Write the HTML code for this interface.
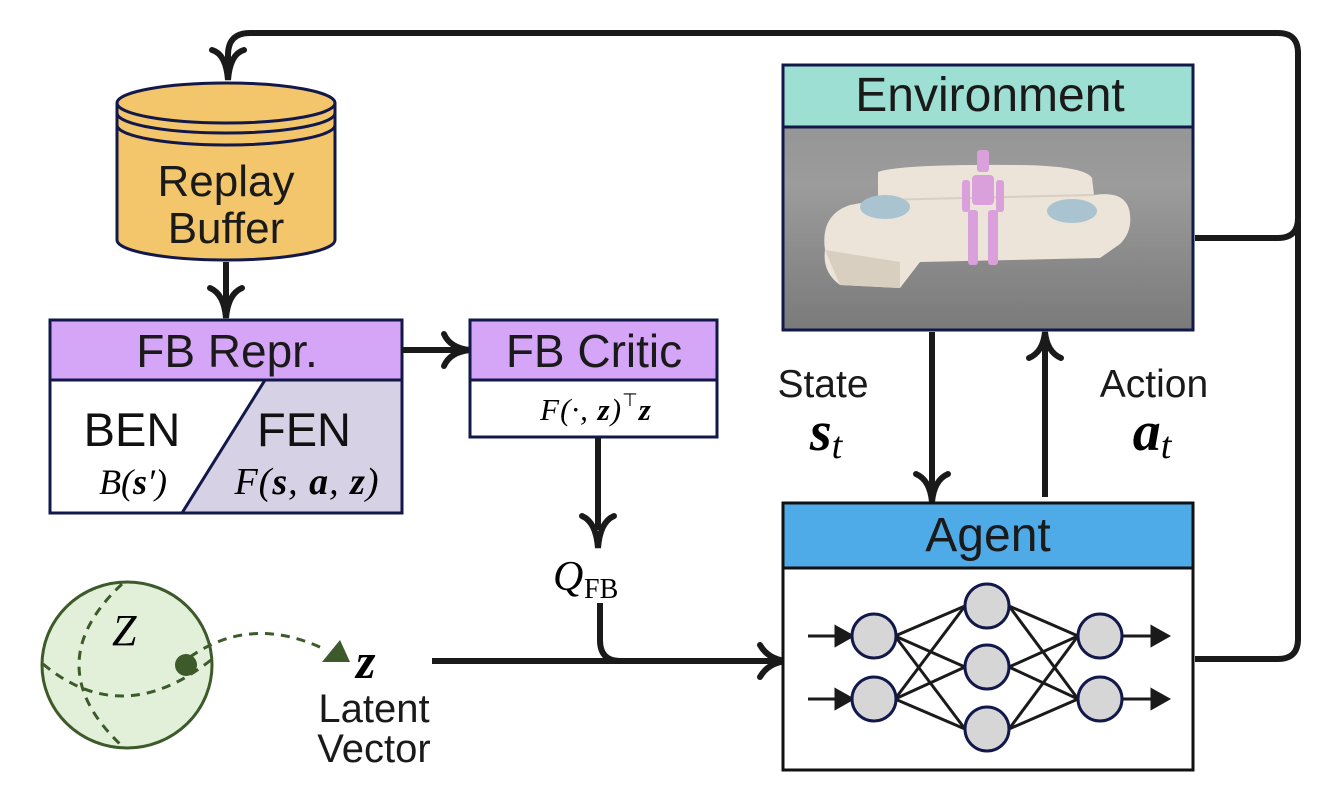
<!DOCTYPE html>
<html><head><meta charset="utf-8"><style>
html,body{margin:0;padding:0;background:#fff;}
svg{display:block;font-family:"Liberation Sans",sans-serif;}
.m{font-family:"Liberation Serif",serif;font-style:italic;}
</style></head><body>
<svg width="1324" height="802" viewBox="0 0 1324 802" xmlns="http://www.w3.org/2000/svg">
<defs>
<linearGradient id="floor" x1="0" y1="0" x2="0" y2="1">
<stop offset="0" stop-color="#8e8e8e"/><stop offset="0.45" stop-color="#9c9c9c"/><stop offset="1" stop-color="#7a7a7a"/>
</linearGradient>
</defs>

<!-- top loop -->
<path d="M1195 238 H1278 Q1298 238 1298 218 V53 Q1298 33 1278 33 H250 Q228 33 228 55 V80" fill="none" stroke="#1a1a1a" stroke-width="6"/>
<path d="M1195 659 H1278 Q1298 659 1298 639 V220" fill="none" stroke="#1a1a1a" stroke-width="6"/>
<path d="M212 50 Q226 54 228 80 Q230 54 244 50" fill="none" stroke="#1a1a1a" stroke-width="6" stroke-linecap="round"/>

<!-- cylinder -->
<path d="M117 103 V240 A109 20 0 0 0 335 240 V103" fill="#f3c66b" stroke="#12184a" stroke-width="3"/>
<ellipse cx="226" cy="103" rx="109" ry="20" fill="#f3c66b" stroke="#12184a" stroke-width="3"/>
<path d="M117 113 A109 20 0 0 0 335 113 M117 125 A109 20 0 0 0 335 125" fill="none" stroke="#12184a" stroke-width="3"/>
<text x="226" y="196" font-size="44" text-anchor="middle" fill="#1a1a1a">Replay</text>
<text x="226" y="243" font-size="44" text-anchor="middle" fill="#1a1a1a">Buffer</text>
<path d="M226 262 V318" stroke="#1a1a1a" stroke-width="6"/>
<path d="M210 288 Q224 294 226 318 Q228 294 242 288" fill="none" stroke="#1a1a1a" stroke-width="6" stroke-linecap="round"/>

<!-- FB Repr -->
<rect x="50" y="320" width="352" height="193" fill="#fff" stroke="#12184a" stroke-width="3"/>
<polygon points="265,380 402,380 402,513 182,513" fill="#d7d1e5"/>
<line x1="265" y1="380" x2="182" y2="513" stroke="#12184a" stroke-width="3"/>
<rect x="50" y="320" width="352" height="60" fill="#d5a5f7" stroke="#12184a" stroke-width="3"/>
<rect x="50" y="320" width="352" height="193" fill="none" stroke="#12184a" stroke-width="3"/>
<text x="227" y="367" font-size="46" text-anchor="middle" fill="#1a1a1a">FB Repr.</text>
<text x="132" y="446" font-size="47" text-anchor="middle" fill="#111">BEN</text>
<text x="304" y="446" font-size="47" text-anchor="middle" fill="#111">FEN</text>
<text x="133" y="494" font-size="36" text-anchor="middle" class="m">B(<tspan font-weight="bold">s</tspan>′)</text>
<text x="307" y="494" font-size="38" text-anchor="middle" class="m" letter-spacing="1">F(<tspan font-weight="bold">s</tspan>, <tspan font-weight="bold">a</tspan>, <tspan font-weight="bold">z</tspan>)</text>

<!-- arrow repr->critic -->
<path d="M402 350 H468" stroke="#1a1a1a" stroke-width="6"/>
<path d="M444 334 Q450 348 470 350 Q450 352 444 366" fill="none" stroke="#1a1a1a" stroke-width="6" stroke-linecap="round"/>

<!-- FB Critic -->
<rect x="470" y="320" width="247" height="117" fill="#fff" stroke="#12184a" stroke-width="3"/>
<rect x="470" y="320" width="247" height="60" fill="#d5a5f7" stroke="#12184a" stroke-width="3"/>
<text x="594" y="367" font-size="46" text-anchor="middle" fill="#1a1a1a">FB Critic</text>
<text x="596" y="420" font-size="31" text-anchor="middle" class="m" letter-spacing="1">F(·, <tspan font-weight="bold">z</tspan>)<tspan font-style="normal" font-size="18" dy="-14">⊤</tspan><tspan font-weight="bold" dy="14">z</tspan></text>
<path d="M598 437 V530" stroke="#1a1a1a" stroke-width="6"/>
<path d="M582 516 Q596 522 598 548 Q600 522 614 516" fill="none" stroke="#1a1a1a" stroke-width="6" stroke-linecap="round"/>
<text x="553" y="590" font-size="42" class="m">Q</text>
<text x="584" y="598" font-size="28" font-family="Liberation Serif,serif">FB</text>

<!-- Q line & z line -->
<path d="M600 603 V640 Q600 661 620 661 H786" fill="none" stroke="#1a1a1a" stroke-width="6"/>
<path d="M432 661 H786" stroke="#1a1a1a" stroke-width="6"/>
<path d="M760 645 Q768 659 786 661 Q768 663 760 677" fill="none" stroke="#1a1a1a" stroke-width="6" stroke-linecap="round"/>

<!-- sphere -->
<ellipse cx="127" cy="665" rx="85" ry="83" fill="#e2efd9" stroke="#3d5a2a" stroke-width="3"/>
<path d="M122 584 Q36 665 122 746" fill="none" stroke="#3d5a2a" stroke-width="3" stroke-dasharray="9 7"/>
<path d="M43 664 Q122 730 211 660" fill="none" stroke="#3d5a2a" stroke-width="3" stroke-dasharray="9 7"/>
<text x="112" y="645" font-size="44" font-family="Liberation Serif,serif" font-style="italic">Z</text>
<circle cx="186" cy="665" r="11" fill="#3d5a2a"/>
<path d="M190 657 Q250 615 322 648" fill="none" stroke="#3d5a2a" stroke-width="3" stroke-dasharray="9 7"/>
<polygon points="322,662 350,662 340,640" fill="#3d5a2a"/>
<text x="356" y="678" font-size="50" class="m" font-weight="bold">z</text>
<text x="374" y="722" font-size="40" text-anchor="middle" fill="#1a1a1a">Latent</text>
<text x="374" y="762" font-size="40" text-anchor="middle" fill="#1a1a1a">Vector</text>

<!-- Environment -->
<rect x="783" y="65" width="410" height="265" fill="url(#floor)" stroke="#12184a" stroke-width="3"/>
<!-- sofa -->
<path d="M825 250 Q820 215 850 205 L878 200 L878 172 Q900 164 1020 165 Q1085 166 1092 178 L1094 195 Q1128 190 1130 215 Q1132 232 1120 244 L1100 258 L920 262 L900 288 L840 285 Q822 272 825 250 Z" fill="#ece4d8"/>
<path d="M825 250 L900 262 L900 288 L840 285 Z" fill="#d9cfc0"/>
<path d="M878 200 L1094 195" stroke="#d8cfc2" stroke-width="2"/>
<ellipse cx="885" cy="207" rx="25" ry="12" fill="#a9c4d0"/>
<ellipse cx="1072" cy="211" rx="25" ry="12" fill="#a9c4d0"/>
<g fill="#d9a0dc">
<rect x="977" y="150" width="12" height="22" rx="3"/>
<rect x="972" y="175" width="22" height="30" rx="4"/>
<rect x="962" y="180" width="8" height="32" rx="3"/>
<rect x="996" y="180" width="8" height="32" rx="3"/>
<rect x="968" y="210" width="10" height="55" rx="3"/>
<rect x="988" y="210" width="10" height="55" rx="3"/>
</g>
<rect x="783" y="65" width="410" height="62" fill="#9ddfd2" stroke="#12184a" stroke-width="3"/>
<rect x="783" y="65" width="410" height="265" fill="none" stroke="#12184a" stroke-width="3"/>
<text x="990" y="111" font-size="48" text-anchor="middle" fill="#1a1a1a">Environment</text>

<!-- state/action -->
<path d="M932 332 V500" stroke="#1a1a1a" stroke-width="6"/>
<path d="M916 474 Q930 480 932 502 Q934 480 948 474" fill="none" stroke="#1a1a1a" stroke-width="6" stroke-linecap="round"/>
<path d="M1045 497 V335" stroke="#1a1a1a" stroke-width="6"/>
<path d="M1029 358 Q1043 352 1045 332 Q1047 352 1061 358" fill="none" stroke="#1a1a1a" stroke-width="6" stroke-linecap="round"/>
<text x="823" y="397" font-size="39" text-anchor="middle" fill="#1a1a1a">State</text>
<text x="826" y="450" font-size="56" text-anchor="middle" class="m" font-weight="bold">s<tspan font-weight="normal" font-size="38" dy="8">t</tspan></text>
<text x="1154" y="397" font-size="39" text-anchor="middle" fill="#1a1a1a">Action</text>
<text x="1152" y="450" font-size="56" text-anchor="middle" class="m" font-weight="bold">a<tspan font-weight="normal" font-size="38" dy="8">t</tspan></text>

<!-- Agent -->
<rect x="783" y="503" width="410" height="267" fill="#fff" stroke="#111" stroke-width="3"/>
<rect x="783" y="503" width="410" height="65" fill="#4fabe8" stroke="#111" stroke-width="3"/>
<text x="988" y="551" font-size="48" text-anchor="middle" fill="#1a1a1a">Agent</text>

<!-- NN -->
<g stroke="#1a1a1a" stroke-width="3" fill="#1a1a1a">
<line x1="808" y1="636" x2="842" y2="636"/><polygon points="836,627 852,636 836,645"/>
<line x1="808" y1="699" x2="842" y2="699"/><polygon points="836,690 852,699 836,708"/>
<line x1="1122" y1="636" x2="1156" y2="636"/><polygon points="1152,627 1168,636 1152,645"/>
<line x1="1122" y1="699" x2="1156" y2="699"/><polygon points="1152,690 1168,699 1152,708"/>
<g fill="none">
<line x1="895" y1="636" x2="965" y2="606"/><line x1="895" y1="636" x2="965" y2="667"/><line x1="895" y1="636" x2="965" y2="729"/>
<line x1="895" y1="699" x2="965" y2="606"/><line x1="895" y1="699" x2="965" y2="667"/><line x1="895" y1="699" x2="965" y2="729"/>
<line x1="1009" y1="606" x2="1078" y2="636"/><line x1="1009" y1="606" x2="1078" y2="699"/>
<line x1="1009" y1="667" x2="1078" y2="636"/><line x1="1009" y1="667" x2="1078" y2="699"/>
<line x1="1009" y1="729" x2="1078" y2="636"/><line x1="1009" y1="729" x2="1078" y2="699"/>
</g>
</g>
<g fill="#d6d6d6" stroke="#12184a" stroke-width="3">
<circle cx="874" cy="636" r="22"/><circle cx="874" cy="699" r="22"/>
<circle cx="987" cy="606" r="22"/><circle cx="987" cy="667" r="22"/><circle cx="987" cy="729" r="22"/>
<circle cx="1100" cy="636" r="22"/><circle cx="1100" cy="699" r="22"/>
</g>
</svg>
</body></html>
